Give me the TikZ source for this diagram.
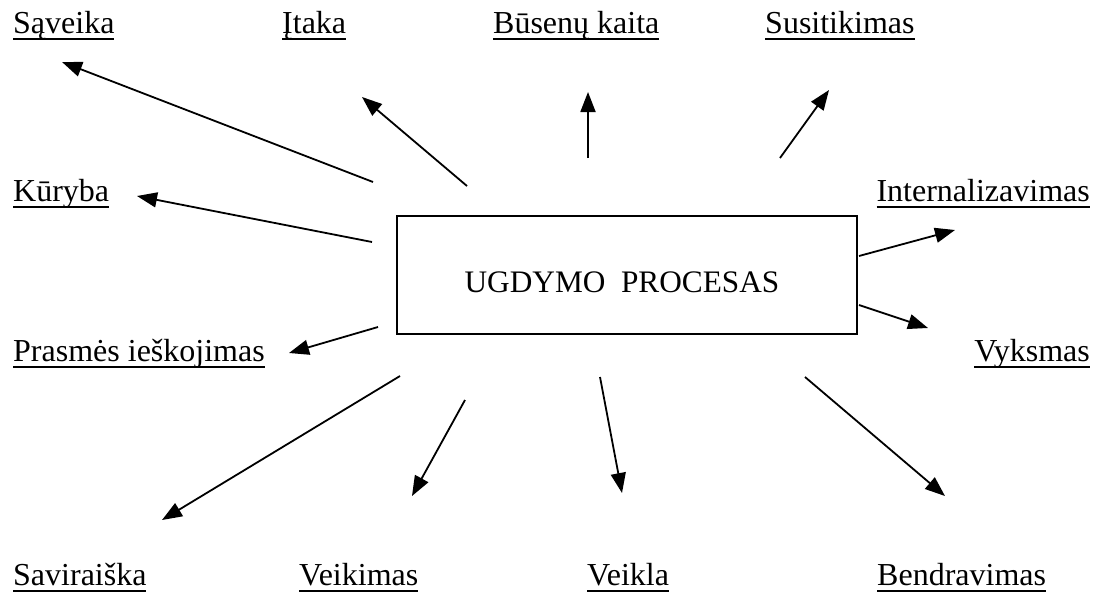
\documentclass[tikz,border=0pt]{standalone}
\usepackage{fontspec}
\setmainfont{Liberation Serif}
\usetikzlibrary{arrows.meta, positioning}
\tikzstyle{term} = [anchor=base west, inner sep=0pt, font=\fontsize{32}{38}\selectfont]
\tikzstyle{termr} = [term, anchor=base east]
\tikzstyle{procbox} = [rectangle, draw=black, line width=2.4pt, minimum width=460pt, minimum height=118pt]
\tikzstyle{arrow} = [line width=1.8pt, -{Triangle[length=20pt, width=15pt]}]
\newcommand{\ulbl}[1]{\setbox0\hbox{#1}\rlap{\rule[-7pt]{\wd0}{2pt}}\box0}

\begin{document}
\begin{tikzpicture}[x=1pt, y=-1pt]
  \useasboundingbox (0,0) rectangle (1102,592);

  % Central box
  \node (proc) [procbox] at (627,275) {};
  \node (proctext) [term, anchor=base, font=\fontsize{31.3}{38}\selectfont] at (622,292) {UGDYMO\ \ PROCESAS};

  % Terms, top row
  \node (saveika) [term] at (13,33) {\ulbl{Sąveika}};
  \node (itaka) [term] at (282,33) {\ulbl{Įtaka}};
  \node (busenu) [term] at (493,33) {\ulbl{Būsenų kaita}};
  \node (susitikimas) [term] at (765,33) {\ulbl{Susitikimas}};

  % Terms, sides
  \node (kuryba) [term] at (13,201) {\ulbl{Kūryba}};
  \node (internal) [termr] at (1090,201) {\ulbl{Internalizavimas}};
  \node (prasmes) [term] at (13,361) {\ulbl{Prasmės ieškojimas}};
  \node (vyksmas) [termr] at (1090,361) {\ulbl{Vyksmas}};

  % Terms, bottom row
  \node (saviraiska) [term] at (13,585) {\ulbl{Saviraiška}};
  \node (veikimas) [term] at (299,585) {\ulbl{Veikimas}};
  \node (veikla) [term] at (587,585) {\ulbl{Veikla}};
  \node (bendravimas) [term] at (877,585) {\ulbl{Bendravimas}};

  % Arrow ends
  \coordinate (s1) at (373,182);  \coordinate (e1) at (62,62);
  \coordinate (s2) at (467,186);  \coordinate (e2) at (362,97);
  \coordinate (s3) at (588,158);  \coordinate (e3) at (588,92);
  \coordinate (s4) at (780,158);  \coordinate (e4) at (829,90);
  \coordinate (s5) at (372,242);  \coordinate (e5) at (137,196);
  \coordinate (s6) at (859,256);  \coordinate (e6) at (955,230);
  \coordinate (s7) at (378,327);  \coordinate (e7) at (289,353);
  \coordinate (s8) at (859,305);  \coordinate (e8) at (928,328);
  \coordinate (s9) at (400,376);  \coordinate (e9) at (162,520);
  \coordinate (s10) at (465,400); \coordinate (e10) at (412,496);
  \coordinate (s11) at (600,377); \coordinate (e11) at (622,493);
  \coordinate (s12) at (805,377); \coordinate (e12) at (945,496);

  % Arrows out of the box
  \draw [arrow] (s1) -- (e1);
  \draw [arrow] (s2) -- (e2);
  \draw [arrow] (s3) -- (e3);
  \draw [arrow] (s4) -- (e4);
  \draw [arrow] (s5) -- (e5);
  \draw [arrow] (s6) -- (e6);
  \draw [arrow] (s7) -- (e7);
  \draw [arrow] (s8) -- (e8);
  \draw [arrow] (s9) -- (e9);
  \draw [arrow] (s10) -- (e10);
  \draw [arrow] (s11) -- (e11);
  \draw [arrow] (s12) -- (e12);

\end{tikzpicture}
\end{document}
